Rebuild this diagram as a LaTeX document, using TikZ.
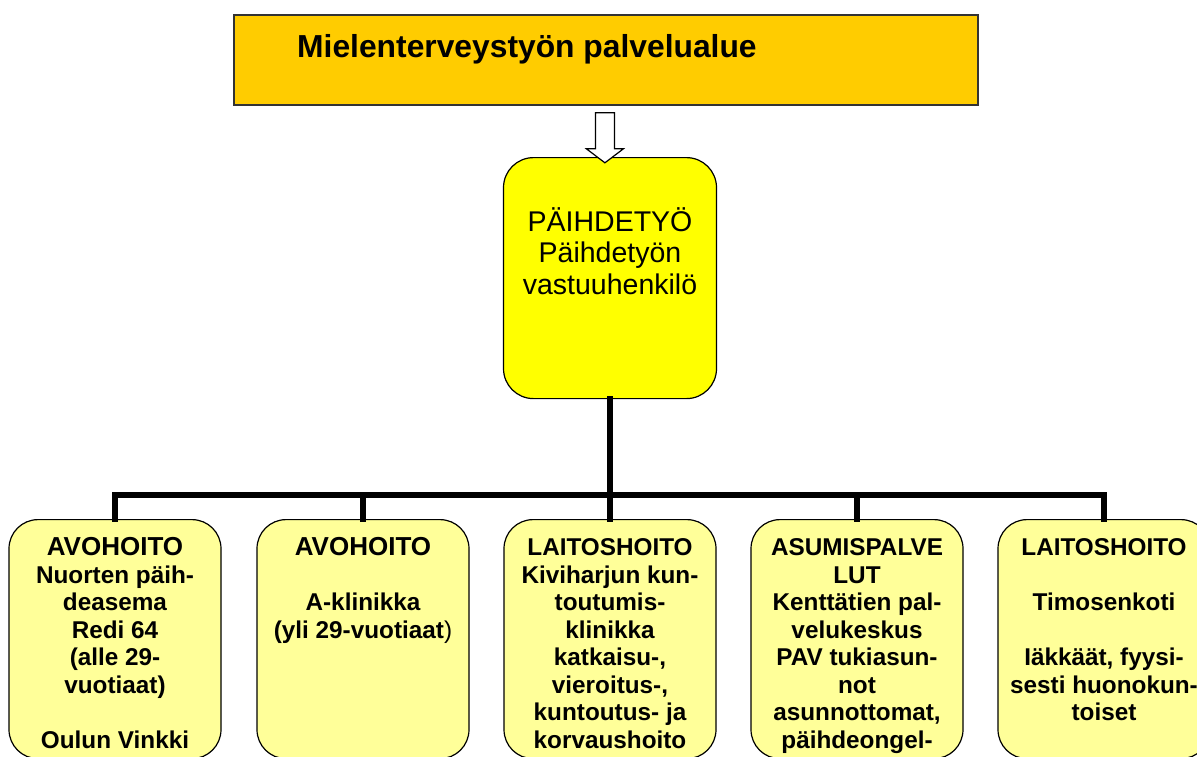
\documentclass[tikz,border=0pt]{standalone}
\usepackage{fontspec}
\setmainfont{Liberation Sans}
\usetikzlibrary{calc}
\definecolor{toporange}{HTML}{FFCC00}
\definecolor{midyellow}{HTML}{FFFF00}
\definecolor{lowyellow}{HTML}{FFFF99}
\begin{document}
\begin{tikzpicture}[x=1pt,y=-1pt,
  topbox/.style={draw=black!80, line width=1.8pt, fill=toporange, minimum width=744pt, minimum height=90pt, inner sep=0pt, anchor=north west},
  midbox/.style={draw=black, line width=1.2pt, fill=midyellow, rounded corners=30pt, minimum width=213pt, minimum height=241pt, inner sep=0pt, anchor=north},
  unitbox/.style={draw=black, line width=1.2pt, fill=lowyellow, rounded corners=29pt, minimum width=212pt, minimum height=239pt, inner sep=0pt, anchor=north},
  unittext/.style={align=center, inner sep=0pt, anchor=north, font=\bfseries\fontsize{24.3}{27.5}\selectfont},
  conn/.style={line width=5.5pt, black, line join=miter, line cap=rect},
  hollowarrow/.style={draw=black, line width=1.2pt, fill=white, line join=miter},
]
\useasboundingbox (0,0) rectangle (1197,756);

% top box
\node[topbox] (top) at (233,14) {};
\node[anchor=base west, inner sep=0pt, font=\bfseries\fontsize{31.8}{36}\selectfont] (title) at (297,57) {Mielenterveystyön palvelualue};

% central box
\node[midbox] (central) at (610,157) {};
\node[align=center, inner sep=0pt, anchor=north, font=\fontsize{28.5}{31.5}\selectfont] (centraltext) at (610,207) {\strut PÄIHDETYÖ\\Päihdetyön\\vastuuhenkilö};

% bottom boxes
\node[unitbox] (b1) at (115,519) {};
\node[unitbox] (b2) at (363,519) {};
\node[unitbox] (b3) at (610,519) {};
\node[unitbox] (b4) at (857,519) {};
\node[unitbox] (b5) at (1104,519) {};

\coordinate (bus) at (610,495);

% connectors
\draw[conn] (central.south) -- (bus);
\draw[conn] (b1.north) -- (b1.north |- bus) -- (b5.north |- bus) -- (b5.north);
\draw[conn] (b2.north) -- (b2.north |- bus);
\draw[conn] (b3.north) -- (b3.north |- bus);
\draw[conn] (b4.north) -- (b4.north |- bus);

% hollow arrow from top box to central box
\coordinate (ts) at ($(top.south)+(-1,0)$);
\draw[hollowarrow] ($(ts)+(-9.5,7)$) -- ($(ts)+(9.5,7)$) -- ($(ts)+(9.5,43)$) -- ($(ts)+(18.5,43)$)
  -- ($(ts)+(0,57)$) -- ($(ts)+(-18.5,43)$) -- ($(ts)+(-9.5,43)$) -- cycle;

% texts in bottom boxes
\node[unittext] (t1) at (115,536.4) {\strut{\fontsize{26}{27.5}\selectfont AVOHOITO}\\Nuorten päih-\\deasema\\Redi 64\\(alle 29-\\vuotiaat)\\[27.5pt]Oulun Vinkki};
\node[unittext] (t2) at (363,536.4) {\strut{\fontsize{26}{27.5}\selectfont AVOHOITO}\\[27.5pt]A-klinikka\\(yli 29-vuotiaat{\mdseries )}};
\node[unittext] (t3) at (610,536.4) {\strut LAITOSHOITO\\Kiviharjun kun-\\toutumis-\\klinikka\\katkaisu-,\\vieroitus-,\\kuntoutus- ja\\korvaushoito};
\node[unittext] (t4) at (857,536.4) {\strut ASUMISPALVE\\LUT\\Kenttätien pal-\\velukeskus\\PAV tukiasun-\\not\\asunnottomat,\\päihdeongel-};
\node[unittext] (t5) at (1104,536.4) {\strut LAITOSHOITO\\[27.5pt]Timosenkoti\\[27.5pt]Iäkkäät, fyysi-\\sesti huonokun-\\toiset};
\end{tikzpicture}
\end{document}
